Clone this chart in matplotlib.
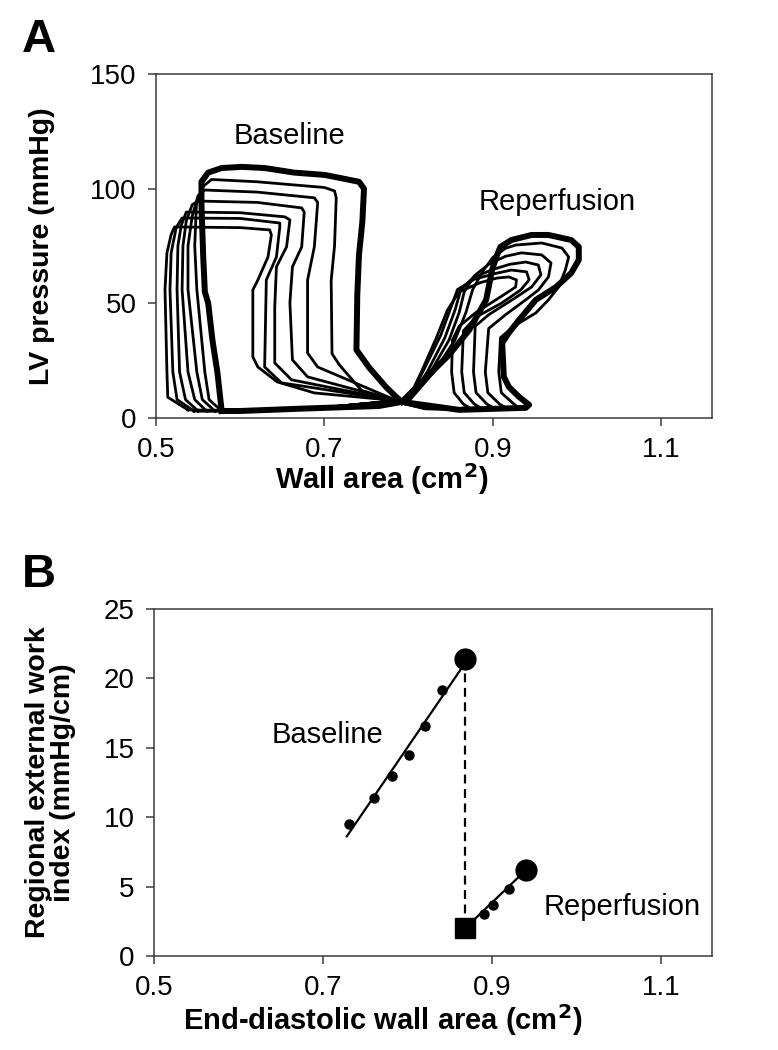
import numpy as np
import matplotlib
matplotlib.use('Agg')
import matplotlib.pyplot as plt

plt.rcParams['font.family'] = ['Liberation Sans', 'DejaVu Sans']

# ---- panel A : LV pressure vs wall area loops ----
base_thick_area = [0.578, 0.573, 0.567, 0.562, 0.558, 0.556, 0.554, 0.554, 0.562, 0.578, 0.602, 0.629,
                   0.664, 0.700, 0.718, 0.741, 0.747, 0.745, 0.741, 0.739, 0.738, 0.753, 0.773, 0.785,
                   0.792, 0.765, 0.670, 0.599, 0.578]
base_thick_press = [3, 19.6, 34, 50, 55, 71, 93, 103, 107, 109, 109.5, 109,
                    107, 106, 104.7, 103, 100, 85.5, 71, 53.6, 29.7, 22, 13.5, 9.2,
                    7, 5.2, 4, 3, 3]

base_thin_area = [
    [0.578, 0.563, 0.558, 0.5485, 0.546, 0.548, 0.556, 0.566, 0.62, 0.70, 0.712, 0.714, 0.712, 0.708,
     0.709, 0.718, 0.744, 0.786, 0.70, 0.60, 0.578],
    [0.570, 0.555, 0.5485, 0.538, 0.538, 0.543, 0.550, 0.558, 0.62, 0.688, 0.692, 0.688, 0.680, 0.680,
     0.692, 0.786, 0.70, 0.60, 0.570],
    [0.560, 0.546, 0.538, 0.531, 0.532, 0.536, 0.543, 0.550, 0.62, 0.673, 0.676, 0.673, 0.662, 0.659,
     0.662, 0.680, 0.786, 0.70, 0.60, 0.560],
    [0.550, 0.535, 0.528, 0.525, 0.526, 0.530, 0.536, 0.60, 0.653, 0.659, 0.655, 0.643, 0.641, 0.641,
     0.661, 0.786, 0.70, 0.60, 0.550],
    [0.545, 0.525, 0.520, 0.5166, 0.518, 0.524, 0.531, 0.60, 0.647, 0.647, 0.643, 0.631, 0.629, 0.649,
     0.786, 0.70, 0.60, 0.545],
    [0.538, 0.514, 0.513, 0.5107, 0.513, 0.518, 0.522, 0.60, 0.635, 0.637, 0.633, 0.621, 0.615, 0.615,
     0.621, 0.644, 0.688, 0.786, 0.70, 0.60, 0.538],
]
base_thin_press = [
    [3, 8, 20, 56, 75, 93, 101, 104, 103, 100.5, 99, 96, 75, 60,
     28, 23, 12, 7.5, 4.5, 3.5, 3],
    [3, 8, 20, 56, 75, 88, 97, 99.4, 98.5, 96, 94, 74.6, 60.2, 28.3,
     22.2, 7.5, 4.5, 3.2, 3],
    [3, 8, 20, 56, 75, 86, 93, 94.6, 94, 91.6, 89.8, 74.6, 65.9, 50.2,
     25.3, 17.9, 7.5, 4.5, 3.2, 3],
    [3, 8, 20, 56, 75, 84, 89.8, 89.5, 87.7, 86.4, 74.6, 65.9, 48.4, 24,
     16.6, 7.5, 4.5, 3.2, 3],
    [3, 8, 20, 56, 72, 83, 87.2, 87, 85, 83.3, 70.2, 60.2, 22.2, 15.3,
     7.5, 4.5, 3.2, 3],
    [3.5, 9, 20, 56, 72, 80, 83.3, 83, 82, 79.8, 70.2, 60.2, 55.8, 26.6,
     22.2, 15.7, 10.9, 7.5, 4.5, 3.2, 3.5],
]

reperf_thick_area = [0.792, 0.860, 0.939, 0.943, 0.931, 0.919, 0.913, 0.911, 0.919, 0.931, 0.951, 0.975,
                     0.993, 1.002, 1.002, 0.993, 0.966, 0.946, 0.922, 0.909, 0.904, 0.899, 0.892, 0.872,
                     0.848, 0.818, 0.792]
reperf_thick_press = [7, 3.5, 4.4, 5.7, 9.2, 13.5, 17.9, 32.7, 37.1, 42.7, 51.5, 57.1,
                      63.2, 68.9, 74.6, 77.6, 79.8, 79.8, 77.6, 74.6, 70.2, 64.5, 51.5, 38.4,
                      27.5, 16.6, 7]

reperf_thin_area = [
    [0.797, 0.83, 0.855, 0.868, 0.876, 0.888, 0.90, 0.915, 0.927, 0.958, 0.982, 0.990, 0.986, 0.978,
     0.966, 0.951, 0.925, 0.909, 0.907, 0.910, 0.925, 0.93, 0.90, 0.85, 0.797],
    [0.797, 0.826, 0.848, 0.860, 0.866, 0.878, 0.895, 0.915, 0.934, 0.958, 0.969, 0.966, 0.954, 0.939,
     0.915, 0.895, 0.891, 0.894, 0.908, 0.915, 0.88, 0.84, 0.797],
    [0.797, 0.822, 0.843, 0.855, 0.862, 0.876, 0.898, 0.920, 0.939, 0.954, 0.957, 0.946, 0.925, 0.895,
     0.879, 0.877, 0.880, 0.893, 0.90, 0.87, 0.83, 0.797],
    [0.797, 0.818, 0.838, 0.850, 0.858, 0.878, 0.903, 0.922, 0.940, 0.943, 0.933, 0.91, 0.88, 0.865,
     0.863, 0.866, 0.878, 0.885, 0.86, 0.82, 0.797],
    [0.797, 0.815, 0.833, 0.846, 0.860, 0.885, 0.905, 0.919, 0.928, 0.927, 0.91, 0.88, 0.86, 0.852,
     0.851, 0.854, 0.865, 0.872, 0.85, 0.82, 0.797],
]
reperf_thin_press = [
    [6, 20, 34, 46, 56, 64, 70, 74, 75.4, 76.3, 74.1, 70.2, 64.5, 57.1,
     51.5, 45.8, 40, 35, 20, 11, 6, 4.5, 3.8, 4, 6],
    [6, 20, 34, 46, 55, 62, 67, 70.5, 72, 71.1, 67.6, 61.5, 55.8, 51.5,
     45, 39, 20, 11, 6, 4.5, 3.8, 4, 6],
    [6, 20, 35, 47, 56, 61, 64.5, 67, 68, 66.7, 62.4, 57.1, 52, 45,
     40, 20, 11, 6, 4.5, 3.8, 4, 6],
    [6, 21, 36, 48, 56, 60.5, 63, 64.5, 63.7, 60.2, 55.8, 50, 44, 38,
     20, 11, 6, 4.5, 3.8, 4, 6],
    [6, 20, 35, 47, 55, 59, 61, 61.5, 60.2, 57.1, 53, 46, 40, 34,
     20, 11, 6, 4.5, 3.8, 4, 6],
]

# ---- panel B : regional work vs end-diastolic wall area ----
base_edwa = [0.731, 0.760, 0.781, 0.801, 0.821, 0.841]
base_work = [9.5, 11.4, 13.0, 14.5, 16.6, 19.2]
base_last_edwa, base_last_work = 0.868, 21.4
reperf_edwa = [0.890, 0.901, 0.920]
reperf_work = [3.0, 3.65, 4.8]
reperf_last_edwa, reperf_last_work = 0.940, 6.2
stunned_edwa, stunned_work = 0.868, 2.0

x_ticks = [0.5, 0.7, 0.9, 1.1]
x_tick_labels = ['0.5', '0.7', '0.9', '1.1']
a_ticks = [0, 50, 100, 150]
b_ticks = [0, 5, 10, 15, 20, 25]

SPINE = '#3a3a3a'


def setupAxes(ax, yticks, ylabel, xlabel):
    ax.set_xlim(0.5, 1.16)
    ax.set_ylim(yticks[0], yticks[-1])
    ax.set_xticks(x_ticks)
    ax.set_xticklabels(x_tick_labels)
    ax.set_yticks(yticks)
    ax.set_yticklabels([str(t) for t in yticks])
    for s in ax.spines.values():
        s.set_color(SPINE)
        s.set_linewidth(1.1)
    ax.tick_params(direction='out', length=6, width=1.1, color=SPINE, labelsize=20, pad=8)
    ax.set_ylabel(ylabel, fontsize=20.5, fontweight='bold', linespacing=0.95)
    ax.set_xlabel(xlabel, fontsize=21, fontweight='bold')


fig = plt.figure(figsize=(7.78, 10.5), dpi=100)

# panel A
axA = fig.add_axes([0.2005, 0.602, 0.7145, 0.3275])
for xs, ys in zip(base_thin_area, base_thin_press):
    axA.plot(xs, ys, color='black', lw=2.0, solid_joinstyle='round')
for xs, ys in zip(reperf_thin_area, reperf_thin_press):
    axA.plot(xs, ys, color='black', lw=2.0, solid_joinstyle='round')
axA.plot(base_thick_area, base_thick_press, color='black', lw=4.3, solid_joinstyle='round')
axA.plot(reperf_thick_area, reperf_thick_press, color='black', lw=4.3, solid_joinstyle='round')
axA.text(0.659, 123, 'Baseline', fontsize=21, ha='center', va='center')
axA.text(0.976, 94, 'Reperfusion', fontsize=21, ha='center', va='center')
setupAxes(axA, a_ticks, 'LV pressure (mmHg)', 'Wall area (cm$\\mathbf{^2}$)')
axA.yaxis.set_label_coords(-0.182, 0.5)
axA.xaxis.set_label_coords(0.406, -0.125)

# panel B
axB = fig.add_axes([0.198, 0.0895, 0.7172, 0.3305])
bx = np.array(base_edwa + [base_last_edwa])
by = np.array(base_work + [base_last_work])
k, b = np.polyfit(bx, by, 1)
line_x = np.array([0.728, base_last_edwa])
axB.plot(line_x, k * line_x + b, color='black', lw=1.6)
axB.plot([base_last_edwa, stunned_edwa], [base_last_work, stunned_work], color='black', lw=1.6,
         linestyle=(0, (4, 2.5)))
axB.plot([stunned_edwa, reperf_last_edwa], [stunned_work, reperf_last_work], color='black', lw=1.6)
axB.plot(base_edwa, base_work, 'o', color='black', markersize=6.5)
axB.plot(reperf_edwa, reperf_work, 'o', color='black', markersize=6.5)
axB.plot([base_last_edwa, reperf_last_edwa], [base_last_work, reperf_last_work], 'o', color='black',
         markersize=15)
axB.plot([stunned_edwa], [stunned_work], 's', color='black', markersize=14)
axB.text(0.705, 15.9, 'Baseline', fontsize=21, ha='center', va='center')
axB.text(1.054, 3.5, 'Reperfusion', fontsize=21, ha='center', va='center')
setupAxes(axB, b_ticks, 'Regional external work\nindex (mmHg/cm)',
          'End-diastolic wall area (cm$\\mathbf{^2}$)')
axB.yaxis.set_label_coords(-0.14, 0.5)
axB.xaxis.set_label_coords(0.41, -0.133)

fig.text(0.028, 0.962, 'A', fontsize=34, fontweight='bold', va='center')
fig.text(0.028, 0.452, 'B', fontsize=34, fontweight='bold', va='center')

fig.savefig('out.png', dpi=100, facecolor='white')
